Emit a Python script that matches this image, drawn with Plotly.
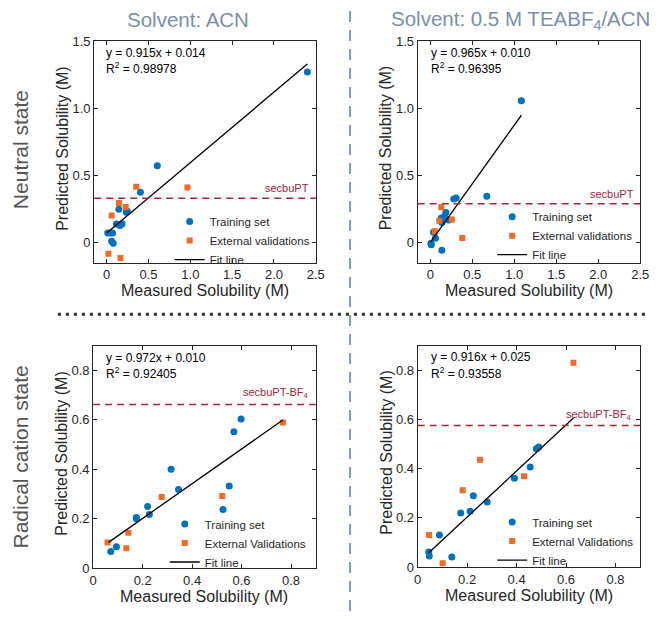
import plotly.graph_objects as go

# ---------------- data ----------------
# Top-left: Neutral state, solvent ACN
n_acn_train_x = [2.40, 0.605, 0.403, 0.145, 0.246, 0.235, 0.117, 0.157, 0.184, 0.012, 0.043, 0.070, 0.059, 0.078]
n_acn_train_y = [1.27, 0.572, 0.375, 0.247, 0.233, 0.225, 0.138, 0.126, 0.140, 0.070, 0.070, 0.070, 0.009, -0.005]
n_acn_ext_x = [0.352, 0.965, 0.145, 0.227, 0.059, 0.020, 0.164]
n_acn_ext_y = [0.415, 0.410, 0.295, 0.264, 0.201, -0.083, -0.116]
n_acn_fit_x = [0.0, 2.40]
n_acn_fit_y = [0.07, 1.33]
n_acn_ref = 0.33

# Top-right: Neutral state, 0.5 M TEABF4/ACN
n_tea_train_x = [1.085, 0.673, 0.280, 0.308, 0.185, 0.169, 0.131, 0.138, 0.219, 0.038, 0.061, 0.008, 0.012, 0.138]
n_tea_train_y = [1.056, 0.344, 0.325, 0.332, 0.223, 0.194, 0.182, 0.150, 0.167, 0.077, 0.031, -0.005, -0.017, -0.058]
n_tea_ext_x = [0.131, 0.107, 0.257, 0.054, 0.381]
n_tea_ext_y = [0.262, 0.162, 0.172, 0.084, 0.034]
n_tea_fit_x = [0.005, 1.085]
n_tea_fit_y = [0.005, 0.948]
n_tea_ref = 0.288

# Bottom-left: Radical cation state, ACN
r_acn_train_x = [0.598, 0.569, 0.315, 0.345, 0.550, 0.525, 0.220, 0.227, 0.174, 0.175, 0.094, 0.071]
r_acn_train_y = [0.603, 0.551, 0.400, 0.318, 0.332, 0.237, 0.249, 0.217, 0.205, 0.199, 0.086, 0.067]
r_acn_ext_x = [0.767, 0.277, 0.522, 0.142, 0.058, 0.134]
r_acn_ext_y = [0.589, 0.287, 0.292, 0.143, 0.103, 0.080]
r_acn_fit_x = [0.062, 0.767]
r_acn_fit_y = [0.104, 0.599]
r_acn_ref = 0.662

# Bottom-right: Radical cation state, 0.5 M TEABF4/ACN
r_tea_train_x = [0.490, 0.480, 0.455, 0.391, 0.281, 0.225, 0.212, 0.174, 0.088, 0.045, 0.047, 0.138]
r_tea_train_y = [0.488, 0.481, 0.407, 0.361, 0.264, 0.290, 0.227, 0.220, 0.130, 0.061, 0.045, 0.041]
r_tea_ext_x = [0.630, 0.252, 0.182, 0.430, 0.046, 0.101]
r_tea_ext_y = [0.830, 0.436, 0.312, 0.369, 0.130, 0.016]
r_tea_fit_x = [0.045, 0.630]
r_tea_fit_y = [0.058, 0.606]
r_tea_ref = 0.575

equations = ["y = 0.915x + 0.014", "y = 0.965x + 0.010", "y = 0.972x + 0.010", "y = 0.916x + 0.025"]
r2_values = ["0.98978", "0.96395", "0.92405", "0.93558"]
ref_labels = ["secbuPT", "secbuPT", "secbuPT-BF<sub>4</sub>", "secbuPT-BF<sub>4</sub>"]
ext_names = ["External validations", "External validations", "External Validations", "External Validations"]

top_ticks = [0, 0.5, 1.0, 1.5, 2.0, 2.5]
top_ticktext = ["0", "0.5", "1.0", "1.5", "2.0", "2.5"]
top_yticks = [0, 0.5, 1.0, 1.5]
top_yticktext = ["0", "0.5", "1.0", "1.5"]
bot_ticks = [0, 0.2, 0.4, 0.6, 0.8]
bot_ticktext = ["0", "0.2", "0.4", "0.6", "0.8"]

col_titles = ["Solvent: ACN", "Solvent: 0.5 M TEABF<sub>4</sub>/ACN"]
row_titles = ["Neutral state", "Radical cation state"]

# ---------------- styling ----------------
W, H = 660, 619
FONT = "Arial, Liberation Sans, sans-serif"
BLUE = "#0072BD"
ORANGE = "#F26A24"
REFCOL = "#A3253C"
AX = "#262626"

def px(x):
    return x / W

def py(y):
    return 1 - y / H

# plot boxes in pixels (left, right, top, bottom)
boxes = [
    (92, 318, 35, 262),
    (422, 649, 35, 262),
    (91, 318, 347, 575),
    (422, 649, 347, 574),
]

panels = [
    (n_acn_train_x, n_acn_train_y, n_acn_ext_x, n_acn_ext_y, n_acn_fit_x, n_acn_fit_y, n_acn_ref),
    (n_tea_train_x, n_tea_train_y, n_tea_ext_x, n_tea_ext_y, n_tea_fit_x, n_tea_fit_y, n_tea_ref),
    (r_acn_train_x, r_acn_train_y, r_acn_ext_x, r_acn_ext_y, r_acn_fit_x, r_acn_fit_y, r_acn_ref),
    (r_tea_train_x, r_tea_train_y, r_tea_ext_x, r_tea_ext_y, r_tea_fit_x, r_tea_fit_y, r_tea_ref),
]

# legend text-start x and middle row center y (pixels)
legend_pos = [(209, 239), (538, 234), (204, 549), (538, 547)]
# equation text left x and line center ys
eq_pos = [(102, 47, 63), (434, 47, 63), (102, 360, 375), (434, 359, 375)]
ref_label_x = [0.98, 0.98, 0.98, 0.97]

fig = go.Figure()
layout = dict(
    width=W, height=H,
    margin=dict(l=0, r=0, t=0, b=0),
    paper_bgcolor="white", plot_bgcolor="white",
    font=dict(family=FONT, color=AX, size=13),
    annotations=[], shapes=[],
)

for i, (tx, ty, ex, ey, fx, fy, ref) in enumerate(panels):
    k = "" if i == 0 else str(i + 1)
    xa, ya = "x" + k, "y" + k
    leg = "legend" + k
    fig.add_trace(go.Scatter(x=tx, y=ty, mode="markers", name="Training set",
                             marker=dict(color=BLUE, size=7, symbol="circle"),
                             xaxis=xa, yaxis=ya, legend=leg))
    fig.add_trace(go.Scatter(x=ex, y=ey, mode="markers", name=ext_names[i],
                             marker=dict(color=ORANGE, size=6, symbol="square"),
                             xaxis=xa, yaxis=ya, legend=leg))
    fig.add_trace(go.Scatter(x=fx, y=fy, mode="lines", name="Fit line",
                             line=dict(color="black", width=1.3),
                             xaxis=xa, yaxis=ya, legend=leg))

    l, r, t, b = boxes[i]
    top = i < 2
    xaxis = dict(domain=[px(l), px(r)], anchor=ya,
                 range=[-0.15, 2.5] if top else [0, 0.9],
                 tickvals=top_ticks if top else bot_ticks,
                 ticktext=top_ticktext if top else bot_ticktext,
                 showline=True, linecolor=AX, linewidth=1, mirror="ticks",
                 ticks="inside", ticklen=4, tickcolor=AX, showgrid=False, zeroline=False,
                 tickfont=dict(size=13, color=AX, family=FONT))
    yaxis = dict(domain=[py(b), py(t)], anchor=xa,
                 range=[-0.15, 1.5] if top else [0, 0.9],
                 tickvals=top_yticks if top else bot_ticks,
                 ticktext=top_yticktext if top else bot_ticktext,
                 showline=True, linecolor=AX, linewidth=1, mirror="ticks",
                 ticks="inside", ticklen=4, tickcolor=AX, showgrid=False, zeroline=False,
                 tickfont=dict(size=13, color=AX, family=FONT))
    layout["xaxis" + k] = xaxis
    layout["yaxis" + k] = yaxis

    lx, ly = legend_pos[i]
    layout[leg] = dict(x=px(lx - 40), y=py(ly - 34), xanchor="left", yanchor="top",
                       bgcolor="rgba(0,0,0,0)", font=dict(size=11.5, color=AX, family=FONT),
                       tracegroupgap=0, itemwidth=30)

    # reference dashed line
    layout["shapes"].append(dict(type="line", xref=xa + " domain", yref=ya,
                                 x0=0, x1=1, y0=ref, y1=ref,
                                 line=dict(color=REFCOL, width=1.5, dash="7px,5px")))
    layout["annotations"].append(dict(text=ref_labels[i], xref=xa + " domain", yref=ya,
                                      x=ref_label_x[i], y=ref, xanchor="right", yanchor="bottom",
                                      yshift=2, showarrow=False,
                                      font=dict(size=11, color=REFCOL, family=FONT)))
    # equation texts
    ex0, ey1, ey2 = eq_pos[i]
    layout["annotations"].append(dict(text=equations[i], xref="paper", yref="paper",
                                      x=px(ex0), y=py(ey1), xanchor="left", yanchor="middle",
                                      showarrow=False, font=dict(size=12, color="black", family=FONT)))
    layout["annotations"].append(dict(text="R<sup>2</sup> = " + r2_values[i], xref="paper", yref="paper",
                                      x=px(ex0), y=py(ey2), xanchor="left", yanchor="middle",
                                      showarrow=False, font=dict(size=12, color="black", family=FONT)))
    # axis titles
    layout["annotations"].append(dict(text="Measured Solubility (M)", xref="paper", yref="paper",
                                      x=px((l + r) / 2), y=py(b + 29), xanchor="center", yanchor="middle",
                                      showarrow=False, font=dict(size=16, color=AX, family=FONT)))
    layout["annotations"].append(dict(text="Predicted Solubility (M)", xref="paper", yref="paper",
                                      x=px(l - 32), y=py((t + b) / 2 - 4), xanchor="center", yanchor="middle",
                                      textangle=-90, showarrow=False,
                                      font=dict(size=16, color=AX, family=FONT)))

# column headers
HEAD = "#7C8EAD"
layout["annotations"].append(dict(text=col_titles[0], xref="paper", yref="paper",
                                  x=px(188), y=py(13), xanchor="center", yanchor="middle",
                                  showarrow=False, font=dict(size=20.5, color=HEAD, family=FONT)))
layout["annotations"].append(dict(text=col_titles[1], xref="paper", yref="paper",
                                  x=px(527), y=py(13), xanchor="center", yanchor="middle",
                                  showarrow=False, font=dict(size=20.5, color=HEAD, family=FONT)))
# row headers
layout["annotations"].append(dict(text=row_titles[0], xref="paper", yref="paper",
                                  x=px(17), y=py(146), xanchor="center", yanchor="middle",
                                  textangle=-90, showarrow=False,
                                  font=dict(size=21, color="#555555", family=FONT)))
layout["annotations"].append(dict(text=row_titles[1], xref="paper", yref="paper",
                                  x=px(17), y=py(461), xanchor="center", yanchor="middle",
                                  textangle=-90, showarrow=False,
                                  font=dict(size=21, color="#555555", family=FONT)))

# divider lines
layout["shapes"].append(dict(type="line", xref="paper", yref="paper",
                             x0=px(353), x1=px(353), y0=0, y1=1,
                             line=dict(color="#7F9AC2", width=2, dash="11px,8px")))
layout["shapes"].append(dict(type="line", xref="paper", yref="paper",
                             x0=px(55), x1=px(656), y0=py(315), y1=py(315),
                             line=dict(color="#333333", width=3, dash="3px,5px")))

fig.update_layout(**layout)
fig.write_html(
    "out.html",
    config={"displayModeBar": False},
    post_script="document.body.style.margin='0';document.body.style.padding='0';document.body.style.overflow='hidden';",
)
